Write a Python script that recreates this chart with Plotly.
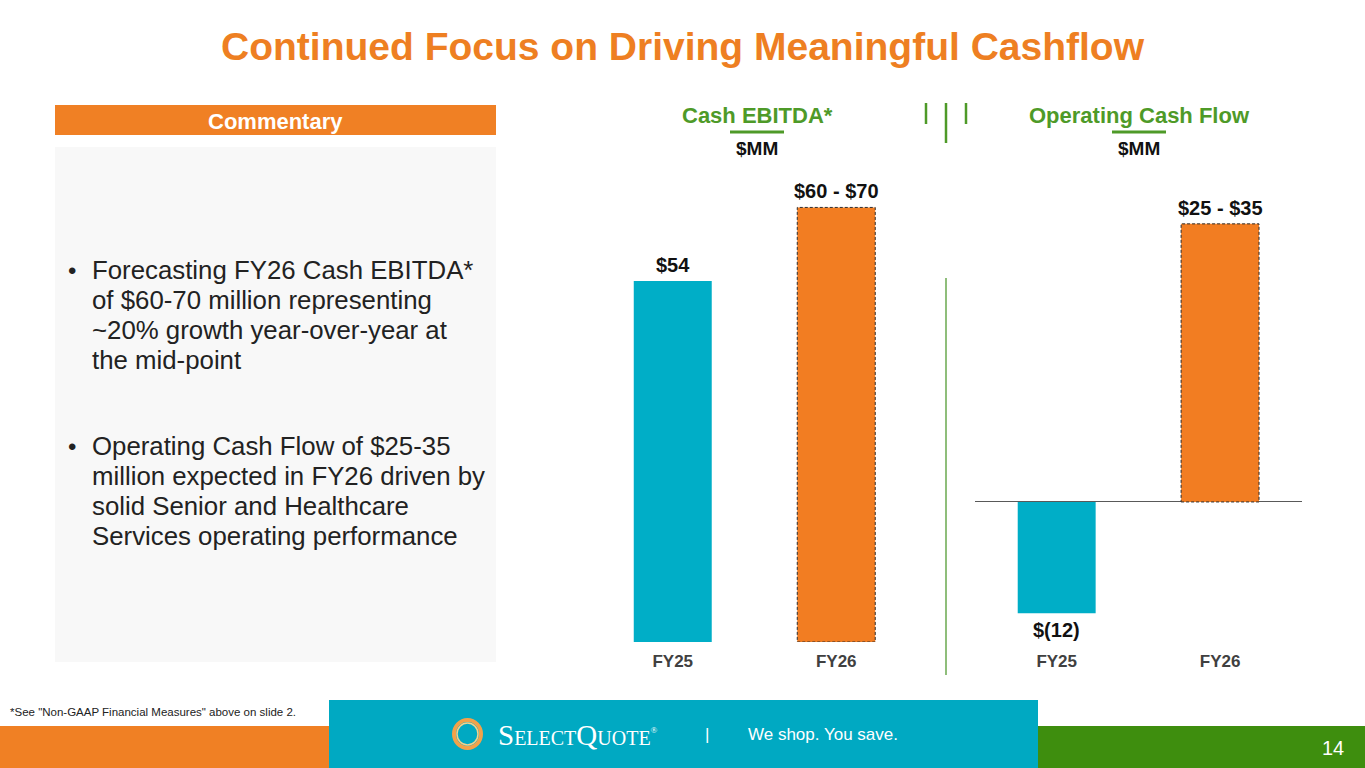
import plotly.graph_objects as go

# data
categories = ["FY25", "FY26"]
ebitda_values = [54, 65]            # FY26 drawn at mid-point of guidance
ebitda_labels = ["$54", "$60 - $70"]
ocf_values = [-12, 30]              # FY26 drawn at mid-point of guidance
ocf_labels = ["$(12)", "$25 - $35"]

bullets = [
    ["Forecasting FY26 Cash EBITDA*",
     "of $60-70 million representing",
     "~20% growth year-over-year at",
     "the mid-point"],
    ["Operating Cash Flow of $25-35",
     "million expected in FY26 driven by",
     "solid Senior and Healthcare",
     "Services operating performance"],
]

W, H = 1365, 768
TEAL = "#00AEC7"
ORANGE = "#F27D22"
GREEN = "#4E9A28"
DARK = "#404040"
FONT = "Liberation Sans, Arial, sans-serif"


def px(x):
    return x / W


def py(y):
    return 1 - y / H


def note(x, y, text, size, color, xanchor="center", **font_kw):
    return dict(x=px(x), y=py(y), xref="paper", yref="paper", showarrow=False,
                xanchor=xanchor, yanchor="middle", text=text,
                font=dict(size=size, color=color, family=font_kw.pop("family", FONT), **font_kw))


fig = go.Figure()

colors = [TEAL, ORANGE]
fig.add_trace(go.Bar(x=categories, y=ebitda_values, marker=dict(color=colors, line=dict(width=0)),
                     xaxis="x", yaxis="y", hoverinfo="skip"))
fig.add_trace(go.Bar(x=categories, y=ocf_values, marker=dict(color=colors, line=dict(width=0)),
                     xaxis="x2", yaxis="y2", hoverinfo="skip"))

axis_common = dict(showgrid=False, showline=False, ticks="", fixedrange=True)
tick_font = dict(size=17, color=DARK, family=FONT, weight="bold")
fig.update_layout(
    width=W, height=H,
    margin=dict(l=0, r=0, t=0, b=0),
    paper_bgcolor="white", plot_bgcolor="rgba(0,0,0,0)",
    showlegend=False,
    bargap=0.523,
    font=dict(family=FONT),
    xaxis=dict(domain=[px(591), px(918)], range=[-0.5, 1.5], anchor="y",
               tickfont=tick_font, ticklabelstandoff=7, **axis_common),
    yaxis=dict(domain=[py(642), py(174)], range=[0, 70], visible=False,
               zeroline=False, anchor="x", **axis_common),
    xaxis2=dict(domain=[px(975), px(1301.75)], range=[-0.5, 1.5], anchor="y2",
                tickfont=tick_font, ticklabelstandoff=8, **axis_common),
    yaxis2=dict(domain=[py(641), py(177.5)], range=[-15, 35], showticklabels=False,
                zeroline=True, zerolinecolor="#595959", zerolinewidth=1, anchor="x2",
                **axis_common),
)

half = (1 - 0.523) / 2
shapes = []
# dashed outlines on guidance bars
for xr, yr, vals in [("x", "y", ebitda_values), ("x2", "y2", ocf_values)]:
    i = 1
    shapes.append(dict(type="rect", xref=xr, yref=yr, x0=i - half, x1=i + half, y0=0, y1=vals[i],
                       line=dict(color="#2e2e2e", width=1, dash="3px,2px"), fillcolor="rgba(0,0,0,0)"))

# value labels
annotations = []
for xr, yr, vals, labs in [("x", "y", ebitda_values, ebitda_labels), ("x2", "y2", ocf_values, ocf_labels)]:
    for c, v, t in zip(categories, vals, labs):
        annotations.append(dict(x=c, y=v, xref=xr, yref=yr, text=t, showarrow=False,
                                yanchor="bottom" if v >= 0 else "top",
                                yshift=3 if v >= 0 else -4,
                                font=dict(size=20, color="#111111", family=FONT, weight="bold")))

# title
annotations.append(note(683, 46, "Continued Focus on Driving Meaningful Cashflow", 39, "#EE7F22",
                        weight="bold"))

# commentary panel
shapes.append(dict(type="rect", xref="paper", yref="paper", x0=px(55), x1=px(496), y0=py(135), y1=py(105),
                   fillcolor="#F08024", line=dict(width=0), layer="below"))
shapes.append(dict(type="rect", xref="paper", yref="paper", x0=px(55), x1=px(496), y0=py(662), y1=py(147),
                   fillcolor="#F8F8F8", line=dict(width=0), layer="below"))
annotations.append(note(275.5, 121, "Commentary", 22, "white", weight="bold"))

for block, y0 in zip(bullets, [270, 446]):
    annotations.append(note(72, y0, "•", 24, "#222222"))
    for k, line in enumerate(block):
        annotations.append(note(90, y0 + 30 * k, line, 25.8, "#222222", xanchor="left"))

# chart headers
for cx, title in [(757, "Cash EBITDA*"), (1139, "Operating Cash Flow")]:
    annotations.append(note(cx, 115, title, 22, GREEN, weight="bold"))
    annotations.append(note(cx, 148, "$MM", 19, "#111111", weight="bold"))
    shapes.append(dict(type="line", xref="paper", yref="paper", x0=px(cx - 27), x1=px(cx + 27),
                       y0=py(132), y1=py(132), line=dict(color=GREEN, width=3)))

# separators
for sx, y1 in [(926, 124), (946, 143), (966, 124)]:
    shapes.append(dict(type="line", xref="paper", yref="paper", x0=px(sx), x1=px(sx),
                       y0=py(103), y1=py(y1), line=dict(color=GREEN, width=2.5)))
shapes.append(dict(type="line", xref="paper", yref="paper", x0=px(946), x1=px(946),
                   y0=py(278), y1=py(675), line=dict(color="#6AA84F", width=1.5)))

# footer
shapes.append(dict(type="rect", xref="paper", yref="paper", x0=0, x1=px(332), y0=0, y1=py(726),
                   fillcolor="#F08024", line=dict(width=0)))
shapes.append(dict(type="rect", xref="paper", yref="paper", x0=px(1036), x1=1, y0=0, y1=py(726),
                   fillcolor="#3E8E0E", line=dict(width=0)))
shapes.append(dict(type="rect", xref="paper", yref="paper", x0=px(329), x1=px(1038), y0=0, y1=py(700),
                   fillcolor="#00A9C2", line=dict(width=0)))
shapes.append(dict(type="circle", xref="paper", yref="paper", x0=px(454), x1=px(481), y0=py(748), y1=py(720),
                   line=dict(color="#F2A24A", width=4), fillcolor="rgba(0,0,0,0)"))
shapes.append(dict(type="circle", xref="paper", yref="paper", x0=px(457), x1=px(478), y0=py(745), y1=py(723),
                   line=dict(color="#F6D08A", width=1.5), fillcolor="rgba(0,0,0,0)"))
annotations.append(note(496, 735, "SelectQuote<sup><span style='font-size:9px'>®</span></sup>", 29, "white",
                        xanchor="left", family="Liberation Serif, serif", variant="small-caps"))
annotations.append(note(707, 734, "|", 17, "white"))
annotations.append(note(746, 734, "We shop. You save.", 17, "white", xanchor="left"))
annotations.append(note(1346, 748, "14", 20, "white", xanchor="right"))
annotations.append(note(8, 712, '*See "Non-GAAP Financial Measures" above on slide 2.', 11.5, "#222222",
                        xanchor="left"))

fig.update_layout(shapes=shapes, annotations=annotations)

fig.write_html("out.html", config={"displayModeBar": False},
               post_script="document.body.style.margin='0';")
